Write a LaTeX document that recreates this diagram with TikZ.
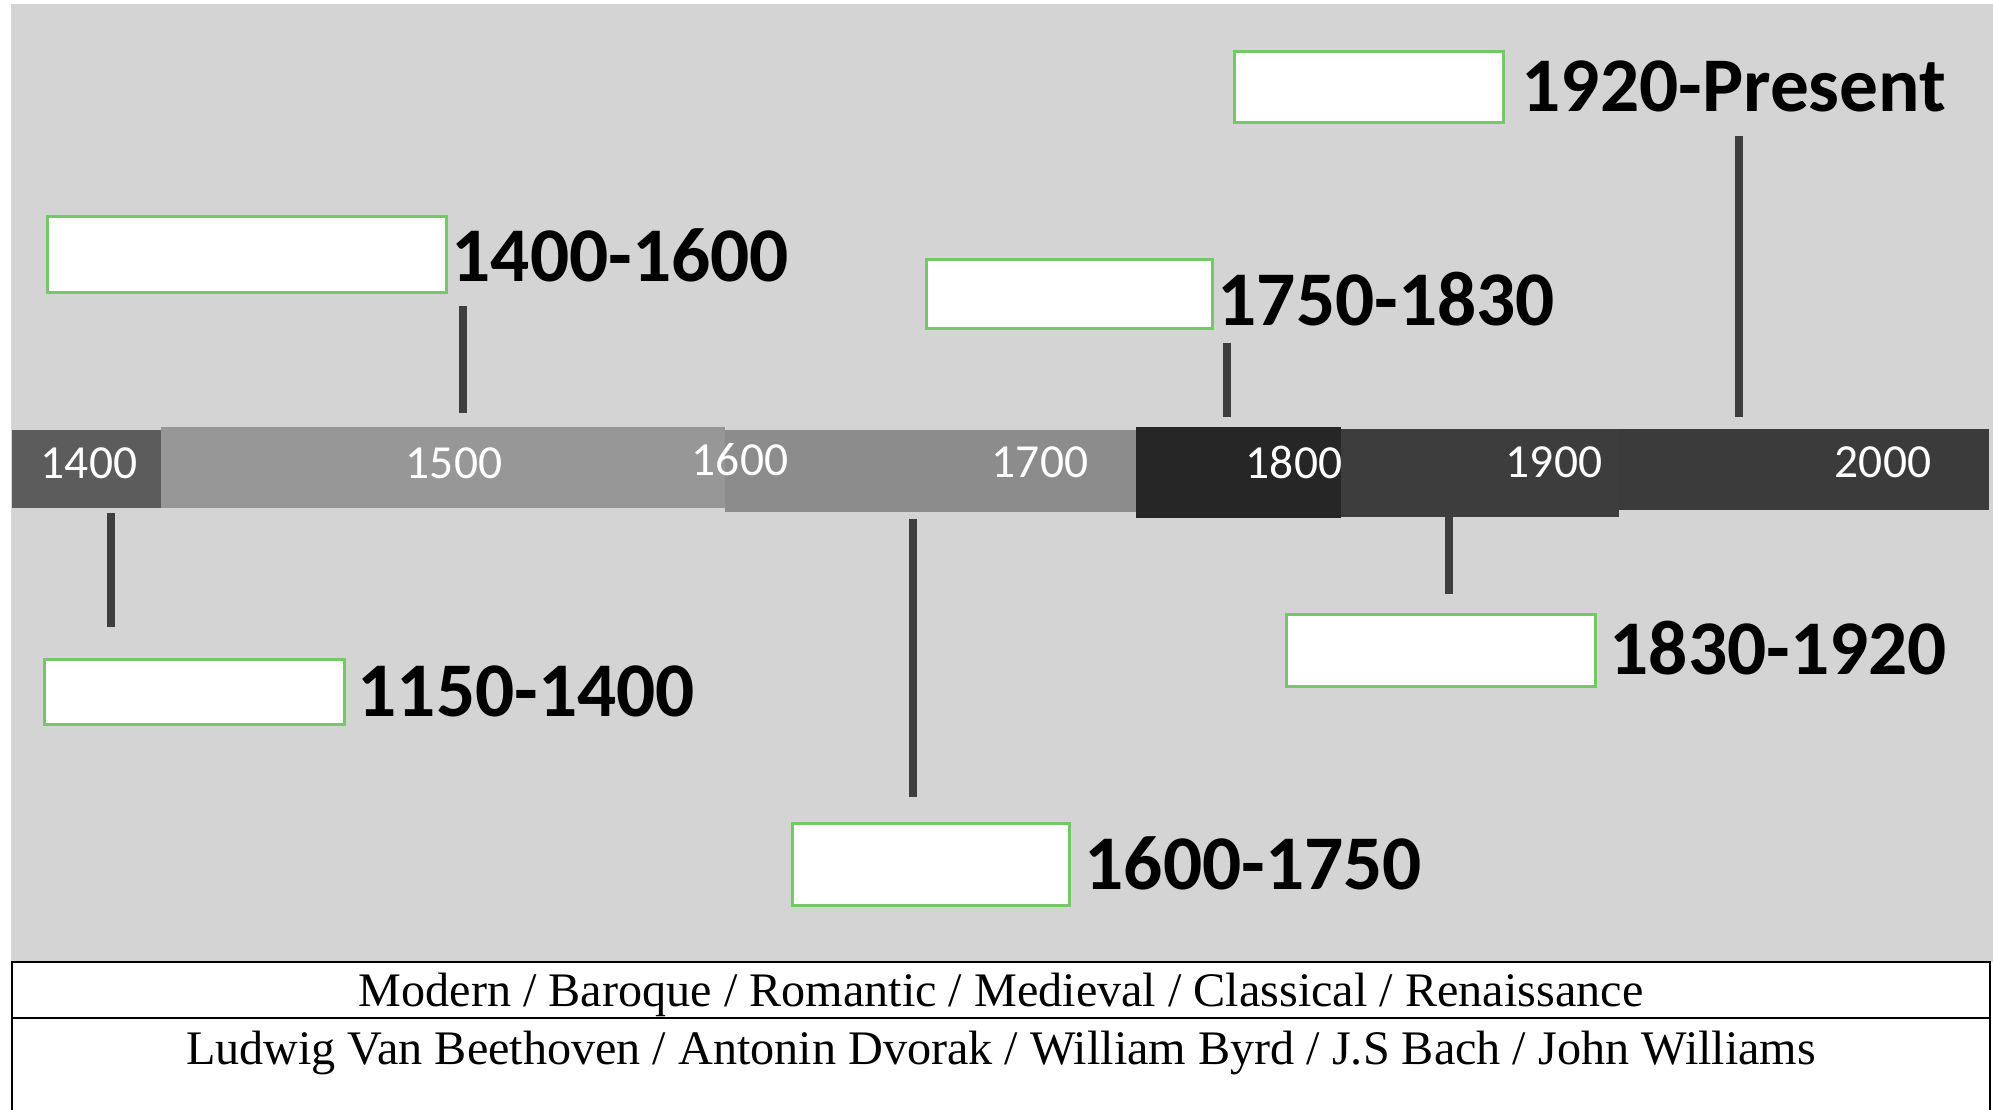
\documentclass[tikz,border=0pt]{standalone}
\usepackage{fontspec}
\setmainfont{Liberation Serif}
\newfontfamily\calib{Carlito}
\usepackage{tikz}
\usetikzlibrary{positioning}

\definecolor{panelgray}{HTML}{D4D4D4}
\definecolor{boxgreen}{HTML}{74C868}
\definecolor{tickgray}{HTML}{3E3E3E}

\tikzset{
  blank/.style={draw=boxgreen,fill=white,line width=0.9pt,anchor=north west,inner sep=0pt},
  era/.style={font=\calib\bfseries\fontsize{22}{22}\selectfont,anchor=west,inner sep=0pt},
  year/.style={font=\calib\fontsize{13.5}{13.5}\selectfont,text=white,inner sep=0pt},
  tick/.style={draw=tickgray,line width=2.2pt},
  row/.style={font=\fontsize{13.7}{13.7}\selectfont,anchor=base,inner sep=0pt},
}

\begin{document}
\begin{tikzpicture}[x=0.01cm,y=-0.01cm]
  \useasboundingbox (0,0) rectangle (1993,1110);
  \fill[panelgray] (11,4) rectangle (1993,962);

  % timeline bar
  \foreach \xa/\ya/\xb/\yb/\col in {12/430/161/508/5C5C5C, 161/427/725/508/979797,
      725/430/1136/512/8C8C8C, 1136/427/1341/518/262626, 1341/429/1619/517/3D3D3D,
      1619/429/1989/510/3B3B3B}{
    \definecolor{segcol}{HTML}{\col}
    \fill[segcol] (\xa,\ya) rectangle (\xb,\yb);
  }
  \foreach \yr/\x/\y in {1400/89/463, 1500/454/463, 1600/740/460, 1700/1040/462,
      1800/1294/462, 1900/1554/462, 2000/1883/462}{
    \node[year] (y\yr) at (\x,\y) {\yr};
  }

  % answer boxes
  \node[blank,minimum width=3.99cm,minimum height=0.76cm] (renbox) at (46,215) {};
  \node[blank,minimum width=2.86cm,minimum height=0.69cm] (clabox) at (925,258) {};
  \node[blank,minimum width=2.69cm,minimum height=0.71cm] (modbox) at (1233,50) {};
  \node[blank,minimum width=3.00cm,minimum height=0.65cm] (medbox) at (43,658) {};
  \node[blank,minimum width=3.09cm,minimum height=0.72cm] (robox) at (1285,613) {};
  \node[blank,minimum width=2.77cm,minimum height=0.82cm] (barbox) at (791,822) {};

  % period labels
  \node[era] (renlab) at (451,255) {1400-1600};
  \node[era] (clalab) at (1217,299) {1750-1830};
  \node[era] (modlab) at (1521,86) {1920-Present};
  \node[era] (medlab) at (357,691) {1150-1400};
  \node[era] (rolab) at (1609,648) {1830-1920};
  \node[era] (barlab) at (1084,863) {1600-1750};

  % ticks
  \foreach \n/\x/\ya/\yb in {ren/463/306/413, cla/1227/343/417, mod/1739/136/417,
      med/111/513/627, bar/913/519/797, ro/1449/513/594}{
    \coordinate (\n top) at (\x,\ya);
    \coordinate (\n bot) at (\x,\yb);
    \draw[tick] (\n top) -- (\n bot);
  }

  % word bank
  \draw[line width=0.6pt] (12,1110) -- (12,962) -- (1990,962) -- (1990,1110);
  \draw[line width=0.6pt] (12,1018) -- (1990,1018);
  \node[row] (eras) at (1001,1007) {Modern / Baroque / Romantic / Medieval / Classical / Renaissance};
  \node[row] (composers) at (1001,1064) {Ludwig Van Beethoven / Antonin Dvorak / William Byrd / J.S Bach / John Williams};
\end{tikzpicture}
\end{document}
